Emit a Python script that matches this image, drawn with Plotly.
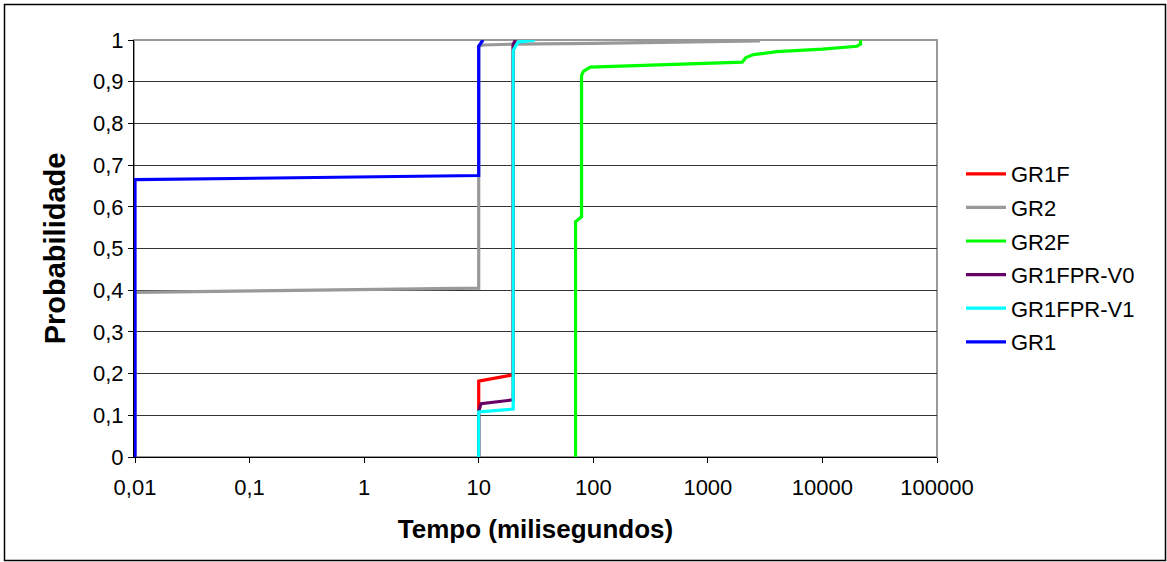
import math
import plotly.graph_objects as go

# ---- data ----
gr1f_x = [10, 10, 10, 20, 20, 21]
gr1f_y = [0.0, 0.108, 0.182, 0.197, 0.985, 1.0]

gr2_x = [0.01, 0.01, 10, 10, 11, 20, 100, 1000, 2850]
gr2_y = [0.0, 0.395, 0.405, 0.985, 0.988, 0.990, 0.992, 0.995, 0.998]

gr2f_x = [70, 70, 79, 79, 82, 94, 2000, 2150, 2500, 4000, 10000, 20000, 21500, 21500]
gr2f_y = [0.0, 0.564, 0.576, 0.915, 0.925, 0.935, 0.947, 0.958, 0.965, 0.972, 0.978, 0.985, 0.990, 1.0]

v0_x = [10, 10, 10.5, 20, 20, 21]
v0_y = [0.0, 0.11, 0.128, 0.137, 0.99, 1.0]

v1_x = [10, 10, 20, 20, 22, 31]
v1_y = [0.0, 0.108, 0.115, 0.975, 0.995, 1.0]

gr1_x = [0.01, 0.01, 10, 10, 10.9]
gr1_y = [0.0, 0.665, 0.675, 0.985, 1.0]

series = [
    ("GR1F", gr1f_x, gr1f_y, "#FF0000"),
    ("GR2", gr2_x, gr2_y, "#999999"),
    ("GR2F", gr2f_x, gr2f_y, "#00FF00"),
    ("GR1FPR-V0", v0_x, v0_y, "#660066"),
    ("GR1FPR-V1", v1_x, v1_y, "#00FFFF"),
    ("GR1", gr1_x, gr1_y, "#0000FF"),
]

x_tickvals = [0.01, 0.1, 1, 10, 100, 1000, 10000, 100000]
x_ticktext = ["0,01", "0,1", "1", "10", "100", "1000", "10000", "100000"]
y_tickvals = [i / 10 for i in range(11)]
y_ticktext = ["0", "0,1", "0,2", "0,3", "0,4", "0,5", "0,6", "0,7", "0,8", "0,9", "1"]

fig = go.Figure()
for name, xs, ys, col in series:
    fig.add_trace(go.Scatter(x=xs, y=ys, mode="lines", name=name, legendgroup=name,
                             line=dict(color=col, width=3.2), cliponaxis=False))

W, H = 1167, 562
L, R, T, B = 134, 937, 40, 457
pw, ph = R - L, B - T
dec_px = (937 - 135) / 7.0
x0 = -2 - (135 - L) / dec_px

def px(x):
    return (x - L) / pw

def py(y):
    return (B - y) / ph

fig.update_layout(
    width=W, height=H,
    margin=dict(l=L, r=W - R, t=T, b=H - B),
    paper_bgcolor="white", plot_bgcolor="white",
    font=dict(family="Liberation Sans, Arial", size=22, color="black"),
    showlegend=True,
    legend=dict(x=px(961), y=py(153), xanchor="left", yanchor="top",
                font=dict(size=22), bgcolor="rgba(0,0,0,0)",
                tracegroupgap=2, itemwidth=40),
    xaxis=dict(type="log", range=[x0, 5], tickvals=x_tickvals, ticktext=x_ticktext,
               showgrid=False, zeroline=False, showline=True, linecolor="black",
               linewidth=1, ticks="outside", ticklen=5, tickcolor="black",
               tickfont=dict(size=22), ticklabelstandoff=6,
               title=dict(text="<b>Tempo (milisegundos)</b>", font=dict(size=26), standoff=20)),
    yaxis=dict(range=[0, 1], tickvals=y_tickvals, ticktext=y_ticktext,
               showgrid=True, gridcolor="#333333", gridwidth=1, zeroline=False,
               showline=True, linecolor="black", linewidth=1,
               ticks="outside", ticklen=5, tickcolor="black",
               tickfont=dict(size=22),
               title=dict(text="<b>Probabilidade</b>", font=dict(size=29), standoff=18)),
    shapes=[
        dict(type="rect", xref="paper", yref="paper", x0=0, x1=1, y0=0, y1=1,
             line=dict(color="#999999", width=2), layer="below"),
        dict(type="rect", xref="paper", yref="paper",
             x0=px(4.5), x1=px(1165.5), y0=py(560.5), y1=py(4.5),
             line=dict(color="black", width=1.5)),
    ],
)

fig.write_html("out.html")
